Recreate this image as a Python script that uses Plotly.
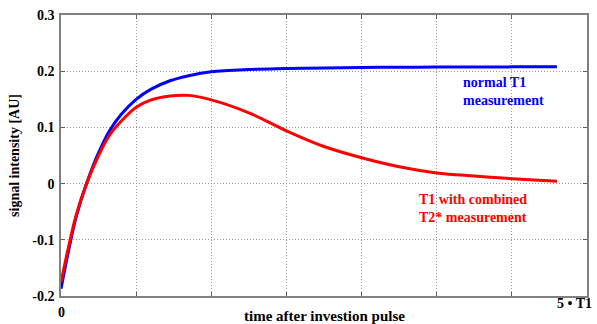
import plotly.graph_objects as go

# time after inversion pulse (grid units; axis spans 0..7)
t = [0, 0.1, 0.2, 0.34, 0.5, 0.65, 0.8, 1.0, 1.2, 1.45, 1.7, 2.0, 2.5, 3.0, 3.5, 4.0, 4.5, 5.0, 5.5, 6.0, 6.6]
normal_t1 = [-0.187, -0.12, -0.06, 0.0, 0.055, 0.095, 0.123, 0.15, 0.168, 0.183, 0.192, 0.199, 0.203,
             0.2046, 0.2058, 0.2066, 0.207, 0.2073, 0.2075, 0.2077, 0.2078]
combined_t2 = [-0.175, -0.113, -0.057, 0.0, 0.05, 0.087, 0.111, 0.136, 0.149, 0.156, 0.157, 0.149, 0.126,
               0.094, 0.066, 0.046, 0.03, 0.019, 0.0134, 0.0088, 0.004]

y_ticks = [-0.2, -0.1, 0, 0.1, 0.2, 0.3]
y_ticktext = ["-0.2", "-0.1", "0", "0.1", "0.2", "0.3"]
x_grid = [1, 2, 3, 4, 5, 6]
x_labels = [(0, "0"), (6.84, "5 • T1")]

FONT = "Liberation Serif"

fig = go.Figure()
fig.add_trace(go.Scatter(x=t, y=normal_t1, mode="lines", line=dict(color="#0000ff", width=3, shape="spline"),
                         showlegend=False))
fig.add_trace(go.Scatter(x=t, y=combined_t2, mode="lines", line=dict(color="#ff0000", width=3, shape="spline"),
                         showlegend=False))

axis_common = dict(showline=True, linecolor="#808080", linewidth=1.5, mirror="ticks",
                   ticks="inside", ticklen=4, tickcolor="#606060", tickwidth=1,
                   showgrid=True, gridcolor="#999999", griddash="1px,2px", gridwidth=1, zeroline=False)

fig.update_xaxes(range=[0, 7], tickvals=x_grid, ticktext=[""] * len(x_grid), **axis_common)
fig.update_yaxes(range=[-0.2, 0.3], tickvals=y_ticks, ticktext=y_ticktext,
                 tickfont=dict(family=FONT, size=14, color="black", weight="bold"),
                 ticklabelstandoff=2,
                 title=dict(text="signal intensity [AU]", font=dict(family=FONT, size=14, color="black", weight="bold"),
                            standoff=9),
                 **axis_common)

for xv, txt in x_labels:
    fig.add_annotation(x=xv, y=0, xref="x", yref="paper", text=txt, showarrow=False,
                       yanchor="middle", yshift=-16 if txt == "0" else -7,
                       font=dict(family=FONT, size=14, color="black", weight="bold"))

fig.add_annotation(x=3.5, y=0, xref="x", yref="paper", text="time after investion pulse", showarrow=False,
                   yanchor="middle", yshift=-20,
                   font=dict(family=FONT, size=15, color="black", weight="bold"))

fig.add_annotation(x=(463 - 61) / 75.43, y=0.2 - (90 - 69.3) / 567, xref="x", yref="y",
                   text="normal T1<br>measurement", showarrow=False, xanchor="left", yanchor="middle", align="left",
                   font=dict(family=FONT, size=14, color="#0000ff", weight="bold"))
fig.add_annotation(x=(418 - 61) / 75.43, y=(183.3 - 208) / 567, xref="x", yref="y",
                   text="T1 with combined<br>T2* measurement", showarrow=False, xanchor="left", yanchor="middle",
                   align="left",
                   font=dict(family=FONT, size=14, color="#ff0000", weight="bold"))

fig.update_layout(width=597, height=324, margin=dict(l=61, r=8, t=13, b=28),
                  plot_bgcolor="white", paper_bgcolor="white")

fig.write_html("out.html", config={"displayModeBar": False},
               post_script="document.body.style.margin='0';document.body.style.overflow='hidden';")
